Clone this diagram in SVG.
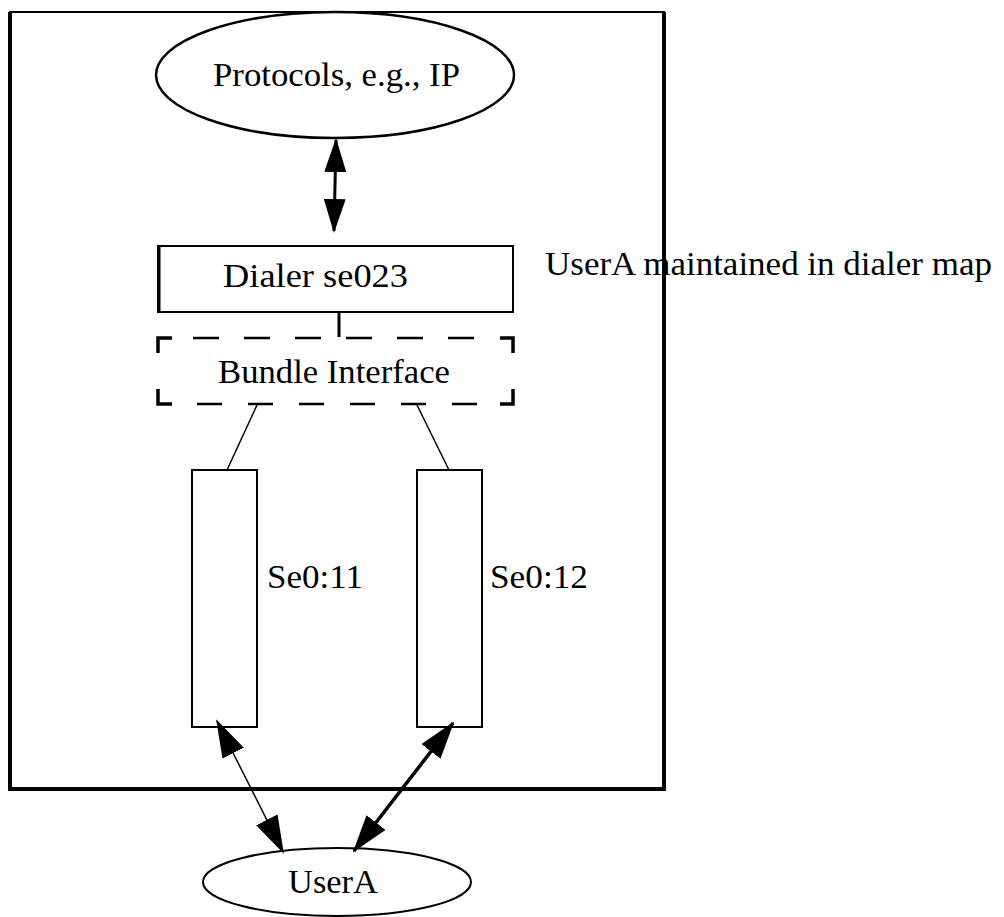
<svg xmlns="http://www.w3.org/2000/svg" width="1004" height="917" viewBox="0 0 1004 917">
<style>
text{font-family:"Liberation Serif","Times New Roman",serif;font-size:34px;fill:#000}
.s{fill:none;stroke:#000}
</style>
<defs>
<marker id="ah" markerUnits="userSpaceOnUse" markerWidth="38" markerHeight="24" refX="36" refY="12" orient="auto-start-reverse"><path d="M0,0 L38,12 L0,24 z" fill="#000"/></marker>
<marker id="ahs" markerUnits="userSpaceOnUse" markerWidth="34" markerHeight="22" refX="32" refY="11" orient="auto-start-reverse"><path d="M0,0 L34,11 L0,22 z" fill="#000"/></marker>
</defs>
<rect width="1004" height="917" fill="#fff"/>
<g id="outer">
<rect class="s" x="10" y="12" width="654" height="777" stroke-width="2"/>
<path class="s" d="M10,12 V789 H664 V12" stroke-width="4"/>
</g>
<g id="protocols">
<ellipse class="s" cx="335" cy="75" rx="179" ry="63" stroke-width="2.5"/>
<text x="213" y="86" textLength="247" lengthAdjust="spacingAndGlyphs">Protocols, e.g., IP</text>
</g>
<g id="dialer">
<rect class="s" x="158" y="246" width="355" height="66" stroke-width="2"/>
<line class="s" x1="159" y1="246" x2="159" y2="312" stroke-width="3"/>
<text x="223" y="287" textLength="185" lengthAdjust="spacingAndGlyphs">Dialer se023</text>
</g>
<g id="bundle">
<path class="s" d="M158,353 V338 H172 M500,338 H513 V353 M158,389 V404 H172 M500,404 H513 V389" stroke-width="3.5"/>
<line class="s" x1="193" y1="338" x2="475" y2="338" stroke-width="2.5" stroke-dasharray="26 25"/>
<line class="s" x1="197" y1="404" x2="479" y2="404" stroke-width="2.5" stroke-dasharray="25 26"/>
<text x="218" y="383" textLength="232" lengthAdjust="spacingAndGlyphs">Bundle Interface</text>
</g>
<g id="se011">
<rect class="s" x="192" y="470" width="65" height="257" stroke-width="2"/>
<text x="267" y="588" textLength="96" lengthAdjust="spacingAndGlyphs">Se0:11</text>
</g>
<g id="se012">
<rect class="s" x="417" y="470" width="65" height="257" stroke-width="2"/>
<text x="490" y="588" textLength="98" lengthAdjust="spacingAndGlyphs">Se0:12</text>
</g>
<g id="note">
<text x="545" y="275" textLength="447" lengthAdjust="spacingAndGlyphs">UserA maintained in dialer map</text>
</g>
<g id="usera">
<ellipse class="s" cx="337" cy="882" rx="134" ry="34" stroke-width="2"/>
<text x="288" y="893" textLength="90" lengthAdjust="spacingAndGlyphs">UserA</text>
</g>
<g id="connectors">
<line class="s" x1="336" y1="140" x2="334" y2="231" stroke-width="3" marker-start="url(#ahs)" marker-end="url(#ahs)"/>
<line class="s" x1="339" y1="312" x2="339" y2="337" stroke-width="3"/>
<line class="s" x1="257" y1="405" x2="227" y2="470" stroke-width="1.5"/>
<line class="s" x1="417" y1="405" x2="449" y2="470" stroke-width="1.5"/>
<line class="s" x1="217" y1="721" x2="283" y2="852" stroke-width="1.5" marker-start="url(#ah)" marker-end="url(#ah)"/>
<line class="s" x1="453" y1="723" x2="354" y2="851" stroke-width="3.5" marker-start="url(#ah)" marker-end="url(#ah)"/>
</g>
</svg>
